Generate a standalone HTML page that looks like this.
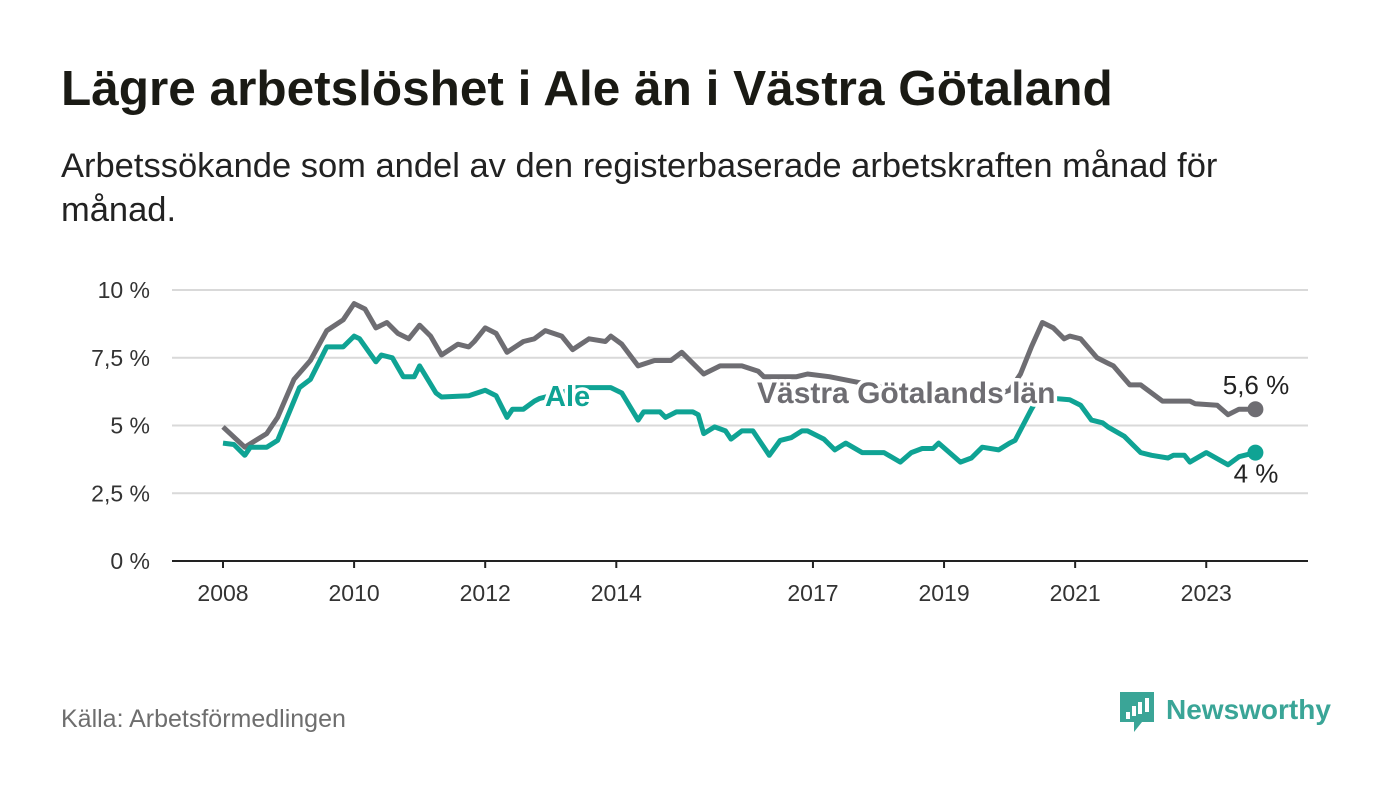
<!DOCTYPE html>
<html><head><meta charset="utf-8">
<style>
body{margin:0;width:1400px;height:794px;background:#fff;font-family:"Liberation Sans",sans-serif;overflow:hidden;position:relative}
#title{position:absolute;left:61px;top:60px;font-size:49.5px;font-weight:bold;color:#1a1a14;margin:0;white-space:nowrap}
#sub{position:absolute;left:61px;top:144px;font-size:34.5px;line-height:44px;color:#222;width:1200px}
#src{position:absolute;left:61px;top:705px;font-size:25px;color:#6e6e6e}
</style></head><body>
<h1 id="title">Lägre arbetslöshet i Ale än i Västra Götaland</h1>
<div id="sub">Arbetssökande som andel av den registerbaserade arbetskraften månad för månad.</div>
<div id="src">Källa: Arbetsförmedlingen</div>
<svg id="chart" width="1400" height="794" style="position:absolute;left:0;top:0"></svg>
<script>
const yTicks=[0,2.5,5,7.5,10];
const yTickLabels=["0 %","2,5 %","5 %","7,5 %","10 %"];
const xTickYears=[2008,2010,2012,2014,2017,2019,2021,2023];
const vgMonths=[0,4,8,10,13,16,19,22,24,26,28,30,32,34,36,38,40,43,45,46,48,50,52,55,57,59,62,64,67,70,71,73,76,79,82,84,85,88,91,95,98,99,105,107,111,116,121,126,131,136,141,144,146,148,150,152,154,155,157,160,162,163,166,168,170,172,177,178,182,184,186,189];
const vgValues=[4.95,4.2,4.7,5.3,6.7,7.4,8.5,8.9,9.5,9.3,8.6,8.8,8.4,8.2,8.7,8.3,7.6,8.0,7.9,8.1,8.6,8.4,7.7,8.1,8.2,8.5,8.3,7.8,8.2,8.1,8.3,8.0,7.2,7.4,7.4,7.7,7.5,6.9,7.2,7.2,7.0,6.8,6.8,6.9,6.8,6.6,6.4,6.2,6.1,6.0,6.1,6.3,6.9,7.9,8.8,8.6,8.2,8.3,8.2,7.5,7.3,7.2,6.5,6.5,6.2,5.9,5.9,5.8,5.75,5.4,5.6,5.6];
const aleMonths=[0,2,4,5,8,10,14,16,19,22,24,25,28,29,31,33,35,36,39,40,45,48,50,52,53,55,57,58,60,62,64,68,71,73,76,77,80,81,82,83,86,87,88,90,92,93,95,97,100,102,104,106,107,110,112,114,117,119,121,124,126,128,130,131,133,135,137,139,142,144,145,148,150,152,155,157,159,161,162,165,168,170,173,174,176,177,180,184,186,189];
const aleValues=[4.35,4.3,3.9,4.2,4.2,4.45,6.4,6.7,7.9,7.9,8.3,8.2,7.35,7.6,7.5,6.8,6.8,7.2,6.2,6.05,6.1,6.3,6.1,5.3,5.6,5.6,5.9,6.0,6.1,6.2,6.4,6.4,6.4,6.2,5.2,5.5,5.5,5.3,5.4,5.5,5.5,5.4,4.7,4.95,4.8,4.5,4.8,4.8,3.9,4.45,4.55,4.8,4.8,4.5,4.1,4.35,4.0,4.0,4.0,3.65,4.0,4.15,4.15,4.35,4.0,3.65,3.8,4.2,4.1,4.35,4.45,5.6,6.3,6.0,5.95,5.75,5.2,5.1,4.95,4.6,4.0,3.9,3.8,3.9,3.9,3.65,4.0,3.55,3.85,4.0];
const NS="http://www.w3.org/2000/svg";
const svg=document.getElementById('chart');
const X0=172,X1=1308;
function xScaleMonth(m){return 223+m*(65.55/12);}
function xScaleYear(y){return xScaleMonth((y-2008)*12);}
function yScale(v){return 561-v*27.1;}
function mk(t,a,p){const e=document.createElementNS(NS,t);for(const k in a)e.setAttribute(k,a[k]);(p||svg).appendChild(e);return e;}
yTicks.forEach((v,i)=>{
  const g=mk('line',{x1:X0,x2:X1,y1:yScale(v),y2:yScale(v),stroke:v===0?'#222':'#d9d9d9','stroke-width':2});
  
  
  const t=mk('text',{x:150,y:yScale(v)+8,'text-anchor':'end','font-size':23,fill:'#333'});
  t.textContent=yTickLabels[i];
  
  
});
xTickYears.forEach(y=>{
  const x=xScaleYear(y);
  const l=mk('line',{x1:x,x2:x,y1:561,y2:568,stroke:'#222','stroke-width':2});
  
  
  const t=mk('text',{x:x,y:601,'text-anchor':'middle','font-size':23,fill:'#333'});
  t.textContent=String(y);
  
  
});
function line(ms,vs,color,name){
  const d=ms.map((m,i)=>(i?'L':'M')+xScaleMonth(m).toFixed(1)+','+yScale(vs[i]).toFixed(1)).join('');
  const p=mk('path',{d:d,fill:'none',stroke:color,'stroke-width':5,'stroke-linejoin':'round'});
  
  
  const n=ms.length-1;
  const c=mk('circle',{cx:xScaleMonth(ms[n]),cy:yScale(vs[n]),r:8,fill:color});
  
  
}
line(vgMonths,vgValues,'#6e6d72','vastra-gotaland-line');
line(aleMonths,aleValues,'#0fa394','ale-line');
function label(x,y,txt,color,name,anchor,bold,size){
  const t=mk('text',{x:x,y:y,'text-anchor':anchor,'font-size':size,'font-weight':bold?'bold':'normal',fill:color,stroke:'#fff','stroke-width':7,'paint-order':'stroke','stroke-linejoin':'round'});
  t.textContent=txt;
  
  
}
label(545,406,'Ale','#0fa394','ale-series-label','start',true,29);
label(757,403,'Västra Götalands län','#6e6d72','vg-series-label','start',true,30);
const nv=vgValues.length-1, na=aleValues.length-1;
label(1256,yScale(vgValues[nv])-15,'5,6 %','#222','vg-end-value','middle',false,26);
label(1256,yScale(aleValues[na])+30,'4 %','#222','ale-end-value','middle',false,26);
const lg=mk('g',{});


mk('path',{d:'M1120,692h34v30h-12l-8,10v-10h-14z',fill:'#3aa597'},lg);
[[1126,712,6],[1132,706,12],[1138,702,16],[1145,698,20]].forEach(b=>mk('rect',{x:b[0],y:b[1],width:4,height:b[2]/2+4,fill:'#fff'},lg));
const lt=mk('text',{x:1166,y:719,'font-size':28,'font-weight':'bold',fill:'#3aa597'},lg);
lt.textContent='Newsworthy';
</script>
</body></html>
